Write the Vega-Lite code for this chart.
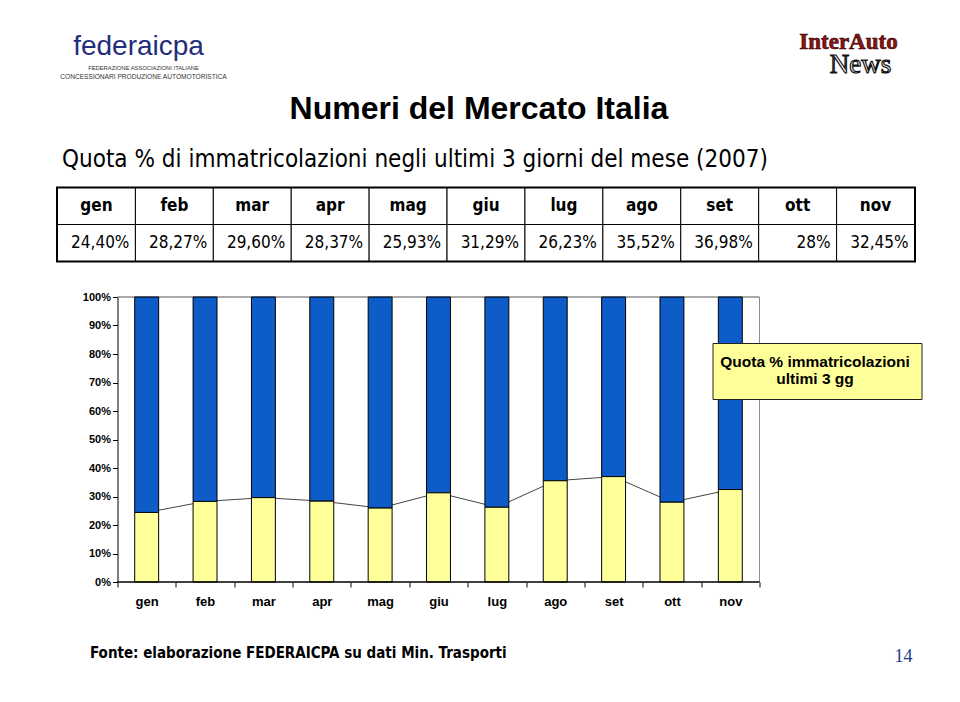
{
  "$schema": "https://vega.github.io/schema/vega-lite/v6.json",
  "background": "white",
  "padding": {"left": 55.5, "top": 30, "right": 0, "bottom": 0},
  "spacing": 21,
  "columns": 1,
  "align": "none",
  "resolve": {"legend": {"color": "independent"}, "scale": {"color": "independent"}},
  "config": {
    "view": {"stroke": null},
    "font": "Liberation Sans"
  },
  "concat": [
    {
      "width": 877,
      "height": 55,
      "title": {
        "text": "Numeri del Mercato Italia",
        "orient": "bottom",
        "anchor": "middle",
        "font": "Liberation Sans",
        "fontSize": 32,
        "fontWeight": "bold",
        "color": "black",
        "offset": 9,
        "dx": -17
      },
      "encoding": {
        "x": {"field": "lato", "type": "nominal", "axis": null, "scale": {"type": "point", "domain": ["sinistra", "destra"], "padding": 0.122}},
        "y": {"field": "riga", "type": "ordinal", "axis": null, "scale": {"type": "point", "domain": [1, 2, 3, 4], "padding": 0}}
      },
      "layer": [
        {
          "data": {"values": [{"lato": "sinistra", "riga": 2, "testo": "federaicpa"}]},
          "mark": {"type": "text", "font": "Liberation Sans", "fontSize": 28, "color": "#1F2D7B", "baseline": "alphabetic", "dy": 7, "dx": -5},
          "encoding": {"text": {"field": "testo"}}
        },
        {
          "data": {"values": [{"lato": "sinistra", "riga": 3, "testo": "FEDERAZIONE ASSOCIAZIONI ITALIANE"}]},
          "mark": {"type": "text", "font": "Liberation Sans", "fontSize": 5.8, "color": "#333333", "baseline": "middle", "dy": 1},
          "encoding": {"text": {"field": "testo"}}
        },
        {
          "data": {"values": [{"lato": "sinistra", "riga": 3, "testo": "CONCESSIONARI PRODUZIONE AUTOMOTORISTICA"}]},
          "mark": {"type": "text", "font": "Liberation Sans", "fontSize": 6.6, "color": "#333333", "baseline": "middle", "dy": 10},
          "encoding": {"text": {"field": "testo"}}
        },
        {
          "data": {"values": [{"lato": "destra", "riga": 2, "testo": "InterAuto"}]},
          "mark": {"type": "text", "font": "Liberation Serif", "fontSize": 23, "fontWeight": "bold", "color": "#8B1414", "stroke": "#2a0000", "strokeWidth": 0.6, "baseline": "middle", "dy": -6},
          "encoding": {"text": {"field": "testo"}}
        },
        {
          "data": {"values": [{"lato": "destra", "riga": 3, "testo": "News"}]},
          "mark": {"type": "text", "font": "Liberation Serif", "fontSize": 27, "color": "white", "stroke": "#111111", "strokeWidth": 1.2, "baseline": "middle", "dy": -2, "dx": 12},
          "encoding": {"text": {"field": "testo"}}
        }
      ]
    },
    {
      "width": 857,
      "height": 73,
      "view": {"stroke": "black", "strokeWidth": 3},
      "title": {
        "text": "Quota % di immatricolazioni negli ultimi 3 giorni del mese (2007)",
        "anchor": "start",
        "font": "Liberation Sans Narrow, DejaVu Sans Condensed, Liberation Sans",
        "fontSize": 24,
        "fontWeight": "normal",
        "color": "black",
        "offset": 16,
        "dx": 5
      },
      "data": {
        "values": [
          {"mese": "gen", "valore": "24,40%"},
          {"mese": "feb", "valore": "28,27%"},
          {"mese": "mar", "valore": "29,60%"},
          {"mese": "apr", "valore": "28,37%"},
          {"mese": "mag", "valore": "25,93%"},
          {"mese": "giu", "valore": "31,29%"},
          {"mese": "lug", "valore": "26,23%"},
          {"mese": "ago", "valore": "35,52%"},
          {"mese": "set", "valore": "36,98%"},
          {"mese": "ott", "valore": "28%"},
          {"mese": "nov", "valore": "32,45%"}
        ]
      },
      "encoding": {
        "x": {"field": "mese", "type": "nominal", "sort": null, "axis": null, "scale": {"paddingInner": 0, "paddingOuter": 0}}
      },
      "layer": [
        {
          "mark": {"type": "rect", "fill": "white", "stroke": "black", "strokeWidth": 1},
          "encoding": {"y": {"datum": "intestazione", "type": "nominal", "axis": null, "scale": {"domain": ["intestazione", "valore"], "paddingInner": 0, "paddingOuter": 0}}}
        },
        {
          "mark": {"type": "rect", "fill": "white", "stroke": "black", "strokeWidth": 1},
          "encoding": {"y": {"datum": "valore", "type": "nominal"}}
        },
        {
          "mark": {"type": "text", "font": "Liberation Sans Narrow, DejaVu Sans Condensed, Liberation Sans", "fontSize": 17, "fontWeight": "bold", "color": "black", "baseline": "middle"},
          "encoding": {
            "y": {"datum": "intestazione", "type": "nominal"},
            "text": {"field": "mese"}
          }
        },
        {
          "mark": {"type": "text", "font": "Liberation Sans Narrow, DejaVu Sans Condensed, Liberation Sans", "fontSize": 17, "color": "black", "baseline": "middle", "align": "right", "dx": -6},
          "encoding": {
            "x": {"field": "mese", "type": "nominal", "sort": null, "bandPosition": 1},
            "y": {"datum": "valore", "type": "nominal"},
            "text": {"field": "valore"}
          }
        }
      ]
    },
    {
      "width": 702,
      "height": 285,
      "title": {
        "text": "14",
        "orient": "bottom",
        "anchor": "end",
        "frame": "group",
        "font": "Liberation Serif",
        "fontSize": 18,
        "fontWeight": "normal",
        "color": "#1F3A8A",
        "dx": 153,
        "offset": -12
      },
      "data": {
        "values": [
          {"mese": "gen", "quota": 0.2440},
          {"mese": "feb", "quota": 0.2827},
          {"mese": "mar", "quota": 0.2960},
          {"mese": "apr", "quota": 0.2837},
          {"mese": "mag", "quota": 0.2593},
          {"mese": "giu", "quota": 0.3129},
          {"mese": "lug", "quota": 0.2623},
          {"mese": "ago", "quota": 0.3552},
          {"mese": "set", "quota": 0.3698},
          {"mese": "ott", "quota": 0.2800},
          {"mese": "nov", "quota": 0.3245}
        ]
      },
      "encoding": {
        "x": {
          "field": "mese",
          "type": "nominal",
          "sort": null,
          "scale": {"paddingInner": 0, "paddingOuter": 0.514, "align": 1},
          "axis": {
            "labelAngle": 0,
            "tickBand": "extent",
            "domain": false,
            "tickColor": "black",
            "tickSize": 5,
            "labelFont": "Liberation Sans",
            "labelFontSize": 13,
            "labelFontWeight": "bold",
            "labelColor": "black",
            "labelPadding": 8,
            "title": "Fonte: elaborazione FEDERAICPA su dati Min. Trasporti",
            "titleFont": "Liberation Sans Narrow, DejaVu Sans Condensed, Liberation Sans",
            "titleFontSize": 15,
            "titleFontWeight": "bold",
            "titleColor": "black",
            "titleAnchor": "start",
            "titleAlign": "left",
            "titleBaseline": "middle",
            "titleX": 32,
            "titleY": 70
          }
        },
        "y": {
          "field": "quota",
          "type": "quantitative",
          "scale": {"domain": [0, 1], "nice": false},
          "axis": {
            "offset": -60,
            "title": " ",
            "titleAngle": 0,
            "titleBaseline": "top",
            "titleAlign": "right",
            "titleFontSize": 8,
            "titleX": -20,
            "titleY": -12.5,
            "format": ".0%",
            "values": [0, 0.1, 0.2, 0.3, 0.4, 0.5, 0.6, 0.7, 0.8, 0.9, 1],
            "grid": false,
            "domainColor": "black",
            "tickColor": "black",
            "tickSize": 5,
            "labelFont": "Liberation Sans",
            "labelFontSize": 11,
            "labelFontWeight": "bold",
            "labelColor": "black",
            "labelPadding": 2
          }
        }
      },
      "layer": [
        {
          "mark": {"type": "bar", "stroke": "#8c8c8c", "strokeWidth": 1, "fill": "white"},
          "encoding": {"y": {"datum": 1, "type": "quantitative"}, "y2": {"datum": 1}}
        },
        {
          "transform": [{"filter": "datum.mese === 'nov'"}],
          "mark": {"type": "rule", "color": "#8c8c8c", "strokeWidth": 1},
          "encoding": {
            "x": {"field": "mese", "type": "nominal", "sort": null, "bandPosition": 1},
            "y": {"datum": 0, "type": "quantitative"},
            "y2": {"datum": 1}
          }
        },
        {
          "mark": {"type": "line", "color": "#444444", "strokeWidth": 1},
          "encoding": {}
        },
        {
          "mark": {"type": "bar", "width": {"band": 0.41}, "color": "#0E5CC8", "stroke": "black", "strokeWidth": 1},
          "encoding": {
            "y2": {"datum": 1}
          }
        },
        {
          "mark": {"type": "bar", "width": {"band": 0.41}, "stroke": "black", "strokeWidth": 1, "opacity": 1},
          "encoding": {
            "y": {"datum": 0, "type": "quantitative"},
            "y2": {"field": "quota"},
            "color": {
              "datum": "Quota % immatricolazioni ultimi 3 gg",
              "type": "nominal",
              "scale": {"range": ["#FFFF99"]},
              "legend": {
                "title": null,
                "orient": "none",
                "legendX": 655,
                "legendY": 46,
                "fillColor": "#FFFF99",
                "strokeColor": "#222222",
                "padding": 11,
                "symbolSize": 0,
                "symbolOpacity": 0,
                "symbolStrokeWidth": 0,
                "labelExpr": "['Quota % immatricolazioni', 'ultimi 3 gg']",
                "labelAlign": "center",
                "labelOffset": 76,
                "labelLimit": 0,
                "labelFont": "Liberation Sans",
                "labelFontSize": 15.5,
                "labelFontWeight": "bold",
                "labelColor": "black"
              }
            }
          }
        },
        {
          "mark": {"type": "bar", "stroke": "black", "strokeWidth": 1, "fill": "black"},
          "encoding": {"y": {"datum": 0, "type": "quantitative"}, "y2": {"datum": 0}}
        }
      ]
    }
  ]
}
